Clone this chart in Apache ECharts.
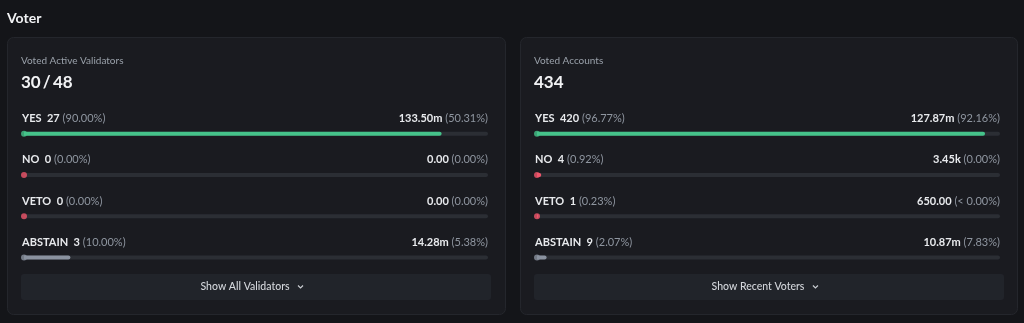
<!DOCTYPE html>
<html>
<head>
<meta charset="utf-8">
<script src="https://cdn.jsdelivr.net/npm/echarts@6/dist/echarts.min.js"></script>
<style>
html,body{margin:0;padding:0;background:#141519;}
#c{width:1024px;height:323px;}
</style>
</head>
<body>
<div id="c"></div>
<script>
// ---- data ----
const categories = ['YES', 'NO', 'VETO', 'ABSTAIN'];
const validatorCounts = [27, 0, 0, 3];
const validatorCountPct = [90.00, 0.00, 0.00, 10.00];
const validatorPowerText = ['133.50m', '0.00', '0.00', '14.28m'];
const validatorPowerPct = ['(50.31%)', '(0.00%)', '(0.00%)', '(5.38%)'];
const accountCounts = [420, 4, 1, 9];
const accountCountPct = [96.77, 0.92, 0.23, 2.07];
const accountPowerText = ['127.87m', '3.45k', '650.00', '10.87m'];
const accountPowerPct = ['(92.16%)', '(0.00%)', '(< 0.00%)', '(7.83%)'];
const panelTitles = ['Voted Active Validators', 'Voted Accounts'];
const panelTotals = ['30\u2009/\u200948', '434'];
const buttonTexts = ['Show All Validators', 'Show Recent Voters'];

const fillColors = ['#45c38a', '#f0566c', '#f0566c', '#8a929f'];
const FONT = 'Lato';

const chart = echarts.init(document.getElementById('c'), null, {renderer: 'canvas'});
const mctx = document.createElement('canvas').getContext('2d');
function tw(text, font) { mctx.font = font; return mctx.measureText(text).width; }

const panels = [
  {x: 7, w: 498, gridLeft: 24, gridW: 464, counts: validatorCounts, pct: validatorCountPct, pText: validatorPowerText, pPct: validatorPowerPct},
  {x: 520, w: 497, gridLeft: 537, gridW: 463, counts: accountCounts, pct: accountCountPct, pText: accountPowerText, pPct: accountPowerPct}
];

const grids = [], xAxes = [], yAxes = [], series = [], graphics = [];

graphics.push({type: 'text', x: 7, y: 18, style: {text: 'Voter', fill: '#f2f3f5', font: 'bold 14px ' + FONT, verticalAlign: 'middle'}});

const labelRich = {
  b: {fontFamily: FONT, fontWeight: 'bold', fontSize: 11, color: '#e8eaed'},
  g: {fontFamily: FONT, fontSize: 11, color: '#8f96a0'}
};

panels.forEach((p, i) => {
  graphics.push({type: 'rect', shape: {x: p.x + 0.5, y: 37.5, width: p.w, height: 277, r: 6},
    style: {fill: '#1a1b20', stroke: '#24262c', lineWidth: 1}, z: -10});
  graphics.push({type: 'text', x: p.x + 14, y: 60.5, style: {text: panelTitles[i], fill: '#9aa1aa', font: '10px ' + FONT, verticalAlign: 'middle'}});
  graphics.push({type: 'text', x: p.x + 14, y: 82.5, style: {text: panelTotals[i], fill: '#f2f3f5', font: 'bold 17px ' + FONT, verticalAlign: 'middle'}});
  graphics.push({type: 'rect', shape: {x: p.x + 14, y: 274, width: 470, height: 26, r: 3},
    style: {fill: '#21242a'}, z: -5});
  const bfont = '500 10.5px ' + FONT;
  const w = tw(buttonTexts[i], bfont);
  const total = w + 14;
  const startX = p.x + 14 + 235 - total / 2 - 4;
  graphics.push({type: 'text', x: startX, y: 287, style: {text: buttonTexts[i], fill: '#d3d6db', font: bfont, align: 'left', verticalAlign: 'middle'}});
  const chx = startX + w + 11;
  graphics.push({type: 'polyline', shape: {points: [[chx - 2.5, 285.5], [chx, 288], [chx + 2.5, 285.5]]},
    style: {stroke: '#c9ccd1', lineWidth: 1.2, fill: null}});

  grids.push({left: p.gridLeft, width: p.gridW, top: 113, height: 165, containLabel: false});
  xAxes.push({gridIndex: i, type: 'value', min: 0, max: 100, show: false});
  yAxes.push({gridIndex: i, type: 'category', data: categories, inverse: true, show: false});

  // left labels
  series.push({
    type: 'bar', xAxisIndex: i, yAxisIndex: i, barWidth: 4, barGap: '-100%', z: 1,
    data: categories.map(() => 100), itemStyle: {color: 'rgba(0,0,0,0)'}, silent: true,
    label: {show: true, position: [-2, -13], align: 'left', verticalAlign: 'middle',
      formatter: (d) => '{b|' + categories[d.dataIndex] + '\u2002' + p.counts[d.dataIndex] + '}{g| (' + p.pct[d.dataIndex].toFixed(2) + '%)}',
      rich: labelRich}
  });
  // right labels
  series.push({
    type: 'bar', xAxisIndex: i, yAxisIndex: i, barWidth: 4, barGap: '-100%', z: 1,
    data: categories.map(() => 100), itemStyle: {color: 'rgba(0,0,0,0)'}, silent: true,
    label: {show: true, position: ['100%', -13], align: 'right', verticalAlign: 'middle',
      formatter: (d) => '{b|' + p.pText[d.dataIndex] + '}{g| ' + p.pPct[d.dataIndex] + '}',
      rich: labelRich}
  });
  // fill bars with track
  series.push({
    type: 'bar', xAxisIndex: i, yAxisIndex: i, barWidth: 4, barGap: '-100%', z: 2,
    showBackground: true, backgroundStyle: {color: '#2b2e34', borderRadius: 2},
    data: p.pct.map((v, k) => ({value: v, itemStyle: {color: fillColors[k], borderRadius: [0, 2, 2, 0]}}))
  });
  // start dots
  series.push({
    type: 'scatter', xAxisIndex: i, yAxisIndex: i, symbolSize: 6, z: 3, silent: true,
    data: categories.map((c, k) => ({value: [0, c], itemStyle: {color: fillColors[k]}}))
  });
});

chart.setOption({
  backgroundColor: '#141519',
  animation: false,
  grid: grids, xAxis: xAxes, yAxis: yAxes, series: series,
  graphic: graphics
});
</script>
</body>
</html>
